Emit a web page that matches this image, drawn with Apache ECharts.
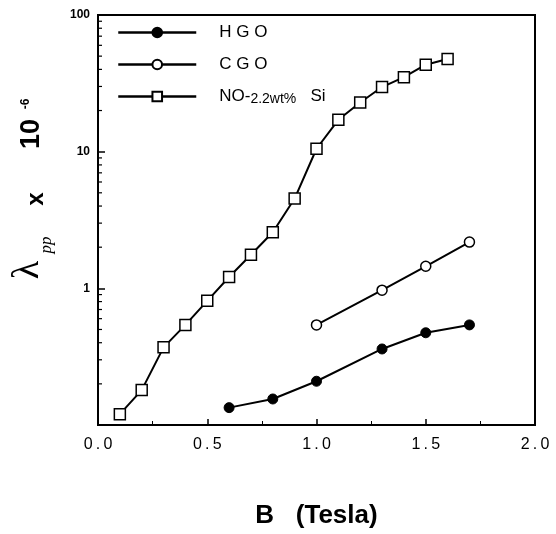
<!DOCTYPE html>
<html>
<head>
<meta charset="utf-8">
<script src="https://cdn.jsdelivr.net/npm/echarts@6/dist/echarts.min.js"></script>
<style>
    html, body { margin: 0; padding: 0; background: #fff; }
    #main { width: 556px; height: 534px; }
</style>
</head>
<body>
<div id="main"></div>
<script>
// data: B (Tesla) vs lambda_pp (x 1e-6)
var hgoB = [0.6, 0.8, 1.0, 1.3, 1.5, 1.7];
var hgoVal = [0.134, 0.155, 0.209, 0.36, 0.473, 0.54];

var cgoB = [1.0, 1.3, 1.5, 1.7];
var cgoVal = [0.54, 0.97, 1.45, 2.18];

var noB = [0.1, 0.2, 0.3, 0.4, 0.5, 0.6, 0.7, 0.8, 0.9, 1.0, 1.1, 1.2, 1.3, 1.4, 1.5, 1.6];
var noVal = [0.12, 0.18, 0.37, 0.54, 0.81, 1.21, 1.76, 2.57, 4.54, 10.5, 17.1, 22.9, 29.7, 35.1, 43.3, 47.6];

var seriesNames = ['HGO', 'CGO', 'NO-2.2wt% Si'];
// log minor ticks 2..9 in each decade
var minorTickVals = [0.2, 0.3, 0.4, 0.5, 0.6, 0.7, 0.8, 0.9, 2, 3, 4, 5, 6, 7, 8, 9, 20, 30, 40, 50, 60, 70, 80, 90];

function pairs(xs, ys) {
    var out = [];
    for (var i = 0; i < xs.length; i++) out.push([xs[i], ys[i]]);
    return out;
}

var chart = echarts.init(document.getElementById('main'));
var font = 'Liberation Sans';

var option = {
    animation: false,
    backgroundColor: '#fff',
    grid: { left: 98, right: 21, top: 15, bottom: 107, show: true, borderColor: '#000', borderWidth: 2 },
    legend: {
        orient: 'vertical',
        left: 112,
        top: 19,
        itemWidth: 78,
        itemHeight: 12,
        itemGap: 15,
        data: seriesNames,
        lineStyle: { width: 2.5 },
        formatter: function (name) {
            if (name === 'NO-2.2wt% Si') return '{n|NO-}{s|2.2wt%}{n|   Si}';
            return '{n|' + name.split('').join(' ') + '}';
        },
        textStyle: {
            padding: [0, 0, 0, 18],
            rich: {
                n: { fontFamily: font, fontSize: 17, color: '#000' },
                s: { fontFamily: font, fontSize: 14, color: '#000', padding: [6, 0, 0, 0] }
            }
        }
    },
    xAxis: {
        type: 'value',
        min: 0,
        max: 2,
        interval: 0.5,
        axisLine: { show: true, lineStyle: { color: '#000', width: 2 } },
        axisTick: { show: true, inside: true, length: 6, lineStyle: { color: '#000', width: 1.5 } },
        minorTick: { show: true, splitNumber: 2, length: 4, lineStyle: { color: '#000' } },
        splitLine: { show: false },
        axisLabel: {
            margin: 12,
            color: '#000',
            fontFamily: font,
            fontSize: 16,
            formatter: function (v) { return v.toFixed(1).split('').join('\u2009'); }
        },
        name: 'B   (Tesla)',
        nameLocation: 'middle',
        nameGap: 78,
        nameTextStyle: { color: '#000', fontFamily: font, fontSize: 26, fontWeight: 'bold' }
    },
    yAxis: {
        type: 'log',
        logBase: 10,
        min: 0.1,
        max: 100,
        axisLine: { show: true, lineStyle: { color: '#000', width: 2 } },
        axisTick: { show: true, inside: true, length: 7, lineStyle: { color: '#000', width: 1.5 } },
        splitLine: { show: false },
        axisLabel: {
            margin: 8,
            color: '#000',
            fontFamily: font,
            fontSize: 12,
            fontWeight: 'bold',
            formatter: function (v) { return v < 0.5 ? '' : String(Math.round(v)); }
        }
    },
    graphic: [
        { type: 'text', x: 28, y: 270, rotation: Math.PI / 2,
          style: { text: 'λ', fontFamily: 'Liberation Serif', fontSize: 38, fill: '#000', align: 'center', verticalAlign: 'middle' } },
        { type: 'text', x: 47, y: 245, rotation: Math.PI / 2,
          style: { text: 'pp', fontFamily: 'Liberation Serif', fontStyle: 'italic', fontSize: 17, fill: '#000', align: 'center', verticalAlign: 'middle' } },
        { type: 'text', x: 36, y: 199, rotation: Math.PI / 2,
          style: { text: 'x', fontFamily: font, fontWeight: 'bold', fontSize: 24, fill: '#000', align: 'center', verticalAlign: 'middle' } },
        { type: 'text', x: 32, y: 134, rotation: Math.PI / 2,
          style: { text: '10', fontFamily: font, fontWeight: 'bold', fontSize: 27, fill: '#000', align: 'center', verticalAlign: 'middle' } },
        { type: 'text', x: 26, y: 104, rotation: Math.PI / 2,
          style: { text: '-6', fontFamily: font, fontWeight: 'bold', fontSize: 12, fill: '#000', align: 'center', verticalAlign: 'middle' } }
    ],
    series: [
        {
            name: 'HGO',
            type: 'line',
            data: pairs(hgoB, hgoVal),
            symbol: 'circle',
            symbolSize: 10,
            lineStyle: { color: '#000', width: 2 },
            itemStyle: { color: '#000', borderColor: '#000', borderWidth: 1 },
            z: 3
        },
        {
            name: 'CGO',
            type: 'line',
            data: pairs(cgoB, cgoVal),
            symbol: 'circle',
            symbolSize: 10,
            lineStyle: { color: '#000', width: 2 },
            itemStyle: { color: '#fff', borderColor: '#000', borderWidth: 1.5 },
            z: 3
        },
        {
            name: 'NO-2.2wt% Si',
            type: 'line',
            data: pairs(noB, noVal),
            symbol: 'rect',
            symbolSize: 11,
            lineStyle: { color: '#000', width: 2 },
            itemStyle: { color: '#fff', borderColor: '#000', borderWidth: 1.5 },
            z: 3
        },
        {
            // minor log ticks on the left axis
            type: 'custom',
            silent: true,
            data: minorTickVals.map(function (v) { return [0, v]; }),
            renderItem: function (params, api) {
                var p = api.coord([api.value(0), api.value(1)]);
                return {
                    type: 'line',
                    shape: { x1: p[0], y1: p[1], x2: p[0] + 4, y2: p[1] },
                    style: { stroke: '#000', lineWidth: 1.2 }
                };
            },
            z: 4
        }
    ]
};

chart.setOption(option);
</script>
</body>
</html>
